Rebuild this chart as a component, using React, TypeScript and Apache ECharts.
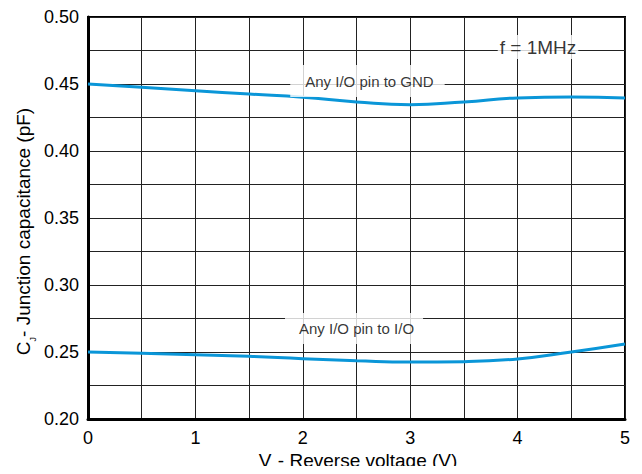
import React, { useEffect, useRef } from "react";
import * as echarts from "echarts";

const FONT = "'Liberation Sans', Arial, Helvetica, sans-serif";

// Reverse voltage (V)
const voltages = [0, 0.5, 1, 1.5, 2, 2.5, 3, 3.5, 4, 4.5, 5];
// Junction capacitance (pF): any I/O pin to GND
const capGnd = [0.45, 0.4475, 0.445, 0.4425, 0.4401, 0.4366, 0.4346, 0.4366, 0.4396, 0.4403, 0.4396];
// Junction capacitance (pF): any I/O pin to I/O
const capIo = [0.25, 0.249, 0.248, 0.2468, 0.245, 0.2435, 0.2425, 0.2428, 0.2448, 0.25, 0.256];

// Annotation texts and their anchor points (data coordinates)
const annotationTexts = ["Any I/O pin to GND", "Any I/O pin to I/O", "f = 1MHz"];
const annotationX = [2.602, 2.477, 4.19];
const annotationY = [0.4522, 0.2675, 0.4776];

const xAxisTitle = "{a|V}{s|R}{a|- Reverse voltage (V)}";
const yAxisTitle = "{a|C}{s|J}{a|- Junction capacitance (pF)}";

const annotationStyles = [
  { fontSize: 15, lineHeight: 16, padding: [8, 11, 8, 15] },
  { fontSize: 15, lineHeight: 16, padding: [8, 9, 7, 14] },
  { fontSize: 19, lineHeight: 20, padding: [2, 2, 2, 2] },
];

export default function App() {
  const ref = useRef<HTMLDivElement>(null);

  useEffect(() => {
    if (!ref.current) return;
    const chart = echarts.init(ref.current, undefined, { renderer: "svg" });
    const gridColor = "#222";
    const lineColor = "#0a96d8";

    const option: any = {
      animation: false,
      backgroundColor: "#fff",
      grid: {
        left: 88,
        right: 17,
        top: 17,
        bottom: 55,
        show: true,
        borderColor: "#000",
        borderWidth: 2,
        backgroundColor: "transparent",
      },
      xAxis: {
        type: "value",
        min: 0,
        max: 5,
        interval: 1,
        axisLine: { show: true, onZero: false, lineStyle: { color: "#000", width: 3 } },
        axisTick: { show: false },
        minorTick: { show: false, splitNumber: 2 },
        axisLabel: { fontSize: 18, color: "#000", margin: 10, fontFamily: FONT },
        splitLine: { show: true, lineStyle: { color: gridColor, width: 1 } },
        minorSplitLine: { show: true, lineStyle: { color: gridColor, width: 1 } },
      },
      yAxis: {
        type: "value",
        min: 0.2,
        max: 0.5,
        interval: 0.05,
        axisLine: { show: true, onZero: false, lineStyle: { color: "#000", width: 3 } },
        axisTick: { show: false },
        minorTick: { show: false, splitNumber: 2 },
        axisLabel: {
          fontSize: 18,
          color: "#000",
          margin: 9,
          fontFamily: FONT,
          formatter: (v: number) => v.toFixed(2),
        },
        splitLine: { show: true, lineStyle: { color: gridColor, width: 1 } },
        minorSplitLine: { show: true, lineStyle: { color: gridColor, width: 1 } },
      },
      series: [
        {
          type: "line",
          name: "Any I/O pin to GND",
          data: voltages.map((v, i) => [v, capGnd[i]]),
          smooth: true,
          symbol: "none",
          lineStyle: { color: lineColor, width: 3 },
          z: 3,
        },
        {
          type: "line",
          name: "Any I/O pin to I/O",
          data: voltages.map((v, i) => [v, capIo[i]]),
          smooth: true,
          symbol: "none",
          lineStyle: { color: lineColor, width: 3 },
          z: 3,
        },
        {
          type: "scatter",
          silent: true,
          symbolSize: 1,
          itemStyle: { color: "rgba(0,0,0,0)" },
          z: 4,
          data: annotationTexts.map((t, i) => ({
            name: t,
            value: [annotationX[i], annotationY[i]],
            label: {
              show: true,
              position: "inside",
              formatter: t,
              color: "#000",
              fontFamily: FONT,
              backgroundColor: "#fff",
              ...annotationStyles[i],
            },
          })),
        },
      ],
      graphic: [
        {
          type: "text",
          x: 358,
          y: 460,
          style: {
            text: xAxisTitle,
            align: "center",
            verticalAlign: "middle",
            rich: {
              a: { fontSize: 19, fontFamily: FONT, fill: "#000" },
              s: { fontSize: 9, fontFamily: FONT, fill: "#000", padding: [17, 0, 0, 0] },
            },
          },
        },
        {
          type: "text",
          x: 23,
          y: 231.5,
          rotation: Math.PI / 2,
          style: {
            text: yAxisTitle,
            align: "center",
            verticalAlign: "middle",
            rich: {
              a: { fontSize: 19, fontFamily: FONT, fill: "#000" },
              s: { fontSize: 9, fontFamily: FONT, fill: "#000", padding: [19, 0, 0, 0] },
            },
          },
        },
      ],
    };

    chart.setOption(option);
    return () => chart.dispose();
  }, []);

  return <div ref={ref} style={{ width: 642, height: 474, margin: -8 }} />;
}
